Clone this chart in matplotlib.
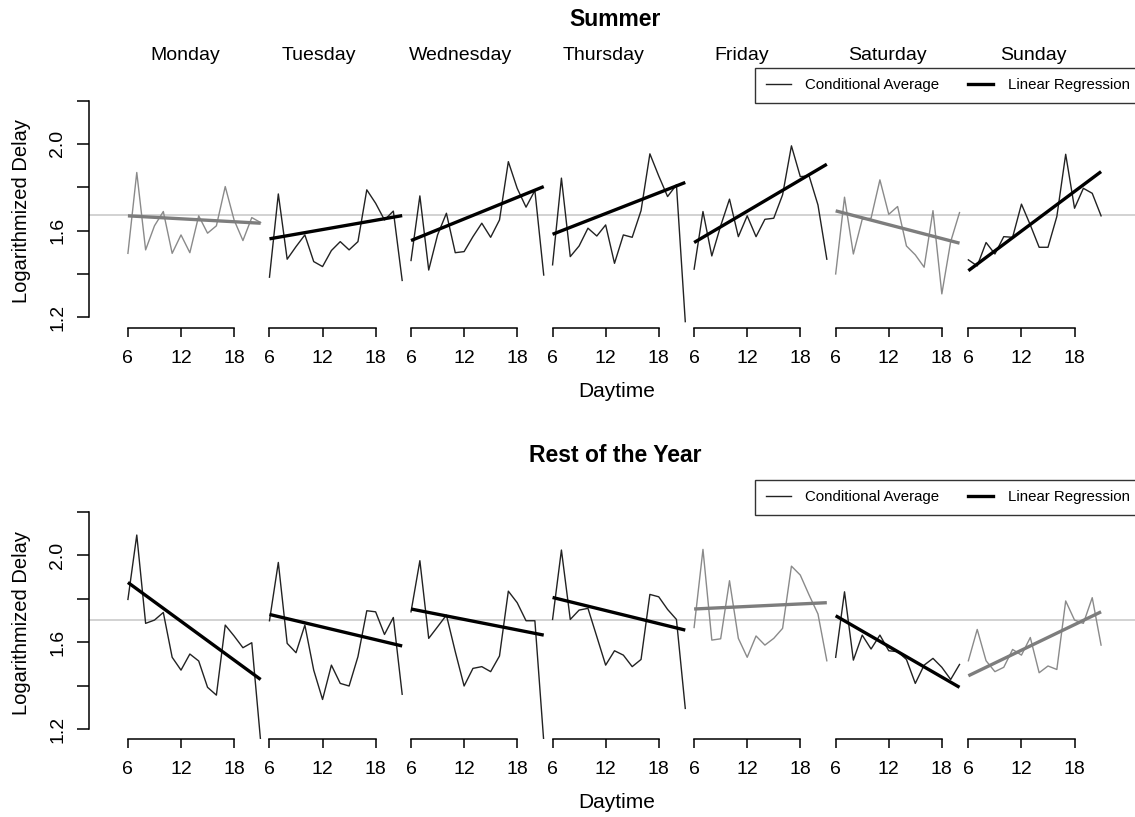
import matplotlib.pyplot as plt
import numpy as np

plt.rcParams['font.family'] = ['Liberation Sans', 'DejaVu Sans']

# tag der woche, stunden 6..21 (samstag nur bis 20)
days = ['Monday', 'Tuesday', 'Wednesday', 'Thursday', 'Friday', 'Saturday', 'Sunday']
hours_full = list(range(6, 22))
hours_sat = list(range(6, 21))
day_hours = [hours_full] * 5 + [hours_sat, hours_full]
xtick_hours = [6, 12, 18]
ytick_vals = [1.2, 1.4, 1.6, 1.8, 2.0, 2.2]
ytick_labels = ['1.2', '', '1.6', '', '2.0', '']

# Summer: conditional average (log delay)
summer_mon = [1.495, 1.868, 1.511, 1.622, 1.688, 1.495, 1.580, 1.498, 1.668, 1.588, 1.622, 1.803, 1.649, 1.554, 1.660, 1.637]
summer_tue = [1.385, 1.769, 1.468, 1.526, 1.580, 1.457, 1.434, 1.508, 1.549, 1.511, 1.549, 1.788, 1.726, 1.649, 1.690, 1.370]
summer_wed = [1.462, 1.760, 1.418, 1.580, 1.680, 1.498, 1.503, 1.572, 1.634, 1.569, 1.649, 1.918, 1.795, 1.708, 1.785, 1.395]
summer_thu = [1.442, 1.842, 1.480, 1.529, 1.611, 1.575, 1.626, 1.449, 1.580, 1.569, 1.692, 1.954, 1.852, 1.757, 1.811, 1.180]
summer_fri = [1.422, 1.688, 1.483, 1.622, 1.745, 1.572, 1.668, 1.572, 1.652, 1.657, 1.765, 1.991, 1.849, 1.852, 1.718, 1.468]
summer_sat = [1.400, 1.754, 1.492, 1.652, 1.657, 1.834, 1.675, 1.711, 1.529, 1.488, 1.431, 1.692, 1.308, 1.549, 1.683]
summer_sun = [1.465, 1.437, 1.545, 1.492, 1.572, 1.569, 1.722, 1.626, 1.523, 1.523, 1.665, 1.952, 1.703, 1.795, 1.772, 1.668]
summer_reg_start = [1.668, 1.562, 1.554, 1.583, 1.545, 1.691, 1.415]
summer_reg_end = [1.634, 1.669, 1.803, 1.822, 1.906, 1.542, 1.872]
summer_mean = 1.672
summer_grey = [True, False, False, False, False, True, False]

# Rest of the year
rest_mon = [1.796, 2.092, 1.686, 1.701, 1.736, 1.530, 1.471, 1.545, 1.513, 1.392, 1.356, 1.678, 1.628, 1.574, 1.597, 1.145]
rest_tue = [1.698, 1.966, 1.594, 1.551, 1.678, 1.471, 1.336, 1.494, 1.410, 1.398, 1.533, 1.744, 1.739, 1.635, 1.713, 1.360]
rest_wed = [1.739, 1.974, 1.617, 1.670, 1.724, 1.556, 1.398, 1.479, 1.487, 1.464, 1.536, 1.834, 1.781, 1.698, 1.698, 1.145]
rest_thu = [1.704, 2.023, 1.704, 1.747, 1.755, 1.625, 1.494, 1.560, 1.540, 1.487, 1.520, 1.819, 1.808, 1.750, 1.704, 1.295]
rest_fri = [1.667, 2.026, 1.609, 1.615, 1.882, 1.617, 1.530, 1.628, 1.586, 1.617, 1.663, 1.949, 1.908, 1.816, 1.729, 1.514]
rest_sat = [1.530, 1.831, 1.517, 1.632, 1.568, 1.632, 1.560, 1.556, 1.520, 1.410, 1.494, 1.525, 1.484, 1.428, 1.497]
rest_sun = [1.514, 1.658, 1.514, 1.464, 1.484, 1.566, 1.540, 1.621, 1.459, 1.490, 1.474, 1.789, 1.701, 1.686, 1.804, 1.586]
rest_reg_start = [1.874, 1.727, 1.752, 1.805, 1.752, 1.721, 1.445]
rest_reg_end = [1.428, 1.582, 1.632, 1.655, 1.781, 1.392, 1.739]
rest_mean = 1.700
rest_grey = [False, False, False, False, True, False, True]

summer = [summer_mon, summer_tue, summer_wed, summer_thu, summer_fri, summer_sat, summer_sun]
rest = [rest_mon, rest_tue, rest_wed, rest_thu, rest_fri, rest_sat, rest_sun]

W, H = 1135, 817


def draw_panel(ax, series, reg_start, reg_end, grey, mean):
    ax.axhline(mean, color='#c6c6c6', lw=1.1, zorder=0)
    offset = 0
    tick_pos, tick_lab = [], []
    for i, vals in enumerate(series):
        x = offset + np.array(day_hours[i]) - 6
        thin = '#8a8a8a' if grey[i] else '#222222'
        thick = '#7d7d7d' if grey[i] else '#000000'
        ax.plot(x, vals, color=thin, lw=1.0)
        ax.plot([x[0], x[-1]], [reg_start[i], reg_end[i]], color=thick, lw=2.4,
                solid_capstyle='butt')
        # klammer der x-achse pro tag
        ax.plot([offset, offset + 12], [0, 0], color='black', lw=1.1,
                transform=ax.get_xaxis_transform(), clip_on=False)
        for h in xtick_hours:
            tick_pos.append(offset + h - 6)
            tick_lab.append(str(h))
        offset += len(day_hours[i])

    ax.set_xlim(-4.4, 114.4)
    ax.set_xticks(tick_pos)
    ax.set_xticklabels(tick_lab, fontsize=14)
    ax.tick_params(axis='x', direction='out', length=6.7, width=1.1, pad=9)
    ax.set_yticks(ytick_vals)
    ax.set_yticklabels(ytick_labels, fontsize=14, rotation=90, va='center')
    ax.tick_params(axis='y', direction='out', length=9, width=1.1, pad=7.5)
    for s in ['top', 'right', 'bottom']:
        ax.spines[s].set_visible(False)
    ax.spines['left'].set_bounds(1.2, 2.2)
    ax.spines['left'].set_linewidth(1.1)
    ax.set_xlabel('Daytime', fontsize=15, va='center')
    ax.xaxis.set_label_coords(0.502, -0.245)
    ax.set_ylabel('Logarithmized Delay', fontsize=14.5, va='center')
    ax.yaxis.set_label_coords(-0.064, 0.448)

    h1, = ax.plot([], [], color='#222222', lw=1.0)
    h2, = ax.plot([], [], color='black', lw=2.4)
    leg = ax.legend([h1, h2], ['Conditional Average', 'Linear Regression'], ncol=2,
                    loc='upper left', bbox_to_anchor=(0.6337, 0, 0.3663, 1), mode='expand',
                    fontsize=10.8, frameon=True, fancybox=False, borderaxespad=0,
                    handlelength=1.7, handletextpad=0.95, borderpad=0.7,
                    columnspacing=1.0)
    leg.get_frame().set_edgecolor('black')
    leg.get_frame().set_linewidth(1.0)


fig = plt.figure(figsize=(W / 100, H / 100), dpi=100)
ax1 = fig.add_axes([89 / W, 1 - 327.7 / H, 1051 / W, 259.7 / H])
ax1.set_ylim(1.152, 2.350)
draw_panel(ax1, summer, summer_reg_start, summer_reg_end, summer_grey, summer_mean)

ax2 = fig.add_axes([89 / W, 1 - 739.3 / H, 1051 / W, 259.3 / H])
ax2.set_ylim(1.153, 2.345)
draw_panel(ax2, rest, rest_reg_start, rest_reg_end, rest_grey, rest_mean)

# wochentage ueber dem oberen panel
day_label_x = [6.5, 21.6, 37.6, 53.8, 69.4, 85.9, 102.3]
for d, xd in zip(days, day_label_x):
    ax1.text(xd, 1.05, d, transform=ax1.get_xaxis_transform(), ha='center', va='center',
             fontsize=14)

fig.text(615 / W, 1 - 20 / H, 'Summer', ha='center', va='center', fontsize=16.5,
         fontweight='bold')
fig.text(615 / W, 1 - 455 / H, 'Rest of the Year', ha='center', va='center',
         fontsize=16.5, fontweight='bold')

fig.savefig('out.png', dpi=100)
